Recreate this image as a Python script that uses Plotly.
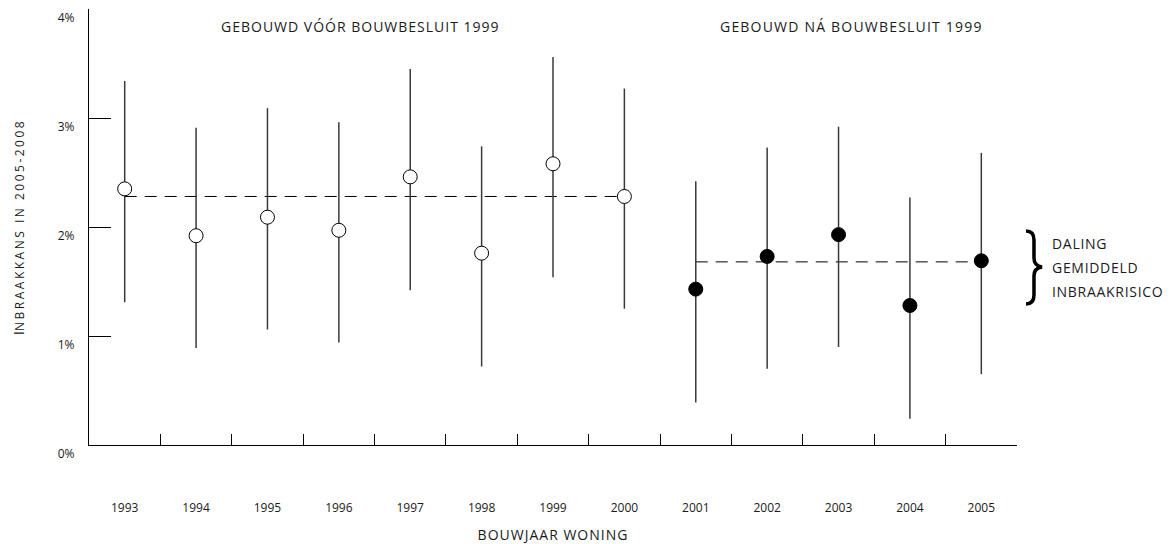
import plotly.graph_objects as go

years = ["1993", "1994", "1995", "1996", "1997", "1998", "1999", "2000",
         "2001", "2002", "2003", "2004", "2005"]
risk = [2.35, 1.92, 2.09, 1.97, 2.46, 1.76, 2.58, 2.28,
        1.43, 1.73, 1.93, 1.28, 1.69]
upper = [3.34, 2.91, 3.09, 2.96, 3.45, 2.74, 3.56, 3.27,
         2.42, 2.73, 2.92, 2.27, 2.68]
lower = [1.31, 0.89, 1.06, 0.94, 1.42, 0.72, 1.54, 1.25,
         0.39, 0.70, 0.90, 0.24, 0.65]
pre_years = years[:8]
post_years = years[8:]
mean_pre = 2.28
mean_post = 1.68

ytick_vals = [0, 1, 2, 3, 4]
ytick_text = ["0%", "1%", "2%", "3%", "4%"]

FONT = "Open Sans"
GRAY = "#3a3a3a"
TXT = "#1a1a1a"


def spaced(s, px=1.2):
    return "<span style='letter-spacing:%spx'>%s</span>" % (px, s)


fig = go.Figure()

# mean lines
fig.add_trace(go.Scatter(x=pre_years, y=[mean_pre] * len(pre_years), mode="lines",
                         line=dict(color="black", width=1, dash="12px,8px"),
                         hoverinfo="skip", showlegend=False))
fig.add_trace(go.Scatter(x=post_years, y=[mean_post] * len(post_years), mode="lines",
                         line=dict(color="black", width=1, dash="12px,8px"),
                         hoverinfo="skip", showlegend=False))


def add_group(idx, filled):
    xs = [years[i] for i in idx]
    ys = [risk[i] for i in idx]
    up = [upper[i] - risk[i] for i in idx]
    lo = [risk[i] - lower[i] for i in idx]
    fig.add_trace(go.Scatter(
        x=xs, y=ys, mode="markers",
        error_y=dict(type="data", symmetric=False, array=up, arrayminus=lo,
                     color=GRAY, thickness=1.5, width=0),
        marker=dict(size=14, color="black" if filled else "white",
                    line=dict(color="black", width=1)),
        showlegend=False))


add_group(range(0, 8), False)
add_group(range(8, 13), True)

ytitle = ("<span style='font-size:15px'>I</span>"
          "<span style='font-size:12px;letter-spacing:2.5px'>NBRAAKKANS IN 2005-2008</span>")

fig.update_layout(
    width=1167, height=536,
    margin=dict(l=81, r=158, t=1, b=99),
    plot_bgcolor="white", paper_bgcolor="white",
    font=dict(family=FONT, size=12, color=TXT),
    xaxis=dict(
        type="category", categoryorder="array", categoryarray=years,
        range=[-0.5, 12.5], tickson="boundaries",
        ticks="inside", ticklen=11, tickcolor="black", tickwidth=1,
        showline=True, linecolor="black", linewidth=1.2,
        showgrid=False, zeroline=False, automargin=False,
        ticklabelstandoff=51,
        tickfont=dict(size=12, color=TXT),
        title=dict(text=spaced("BOUWJAAR WONING", 1), standoff=22,
                   font=dict(size=14, color=TXT)),
    ),
    yaxis=dict(
        range=[0, 4], tickvals=ytick_vals, ticktext=ytick_text,
        ticks="inside", ticklen=22, tickcolor="black", tickwidth=1,
        ticklabelposition="outside bottom", ticklabelstandoff=11,
        showline=True, linecolor="black", linewidth=1.2,
        showgrid=False, zeroline=False, automargin=False,
        tickfont=dict(size=12, color=TXT),
        title=dict(text=ytitle, standoff=37, font=dict(size=12, color=TXT)),
    ),
)

fig.add_annotation(x=3.3, y=3.835, xref="x", yref="y", showarrow=False,
                   text=spaced("GEBOUWD VÓÓR BOUWBESLUIT 1999", 1), font=dict(size=14))
fig.add_annotation(x=10.18, y=3.835, xref="x", yref="y", showarrow=False,
                   text=spaced("GEBOUWD NÁ BOUWBESLUIT 1999", 1.2), font=dict(size=14))

for txt, yv in [("DALING", 1.853), ("GEMIDDELD", 1.633), ("INBRAAKRISICO", 1.404)]:
    fig.add_annotation(x=1.0355, y=yv, xref="paper", yref="y", showarrow=False,
                       xanchor="left", text=spaced(txt, 0.7), font=dict(size=14))

# curly brace decoration (paper coordinates)
brace = ("M 1.0097,0.4908 Q 1.0183,0.4908 1.0183,0.4702 L 1.0183,0.4289 "
         "Q 1.0183,0.4106 1.0270,0.4083 Q 1.0183,0.4060 1.0183,0.3876 "
         "L 1.0183,0.3440 Q 1.0183,0.3234 1.0097,0.3234")
fig.add_shape(type="path", path=brace, xref="paper", yref="paper",
              line=dict(color="black", width=3.5))

fig.write_html("out.html")
